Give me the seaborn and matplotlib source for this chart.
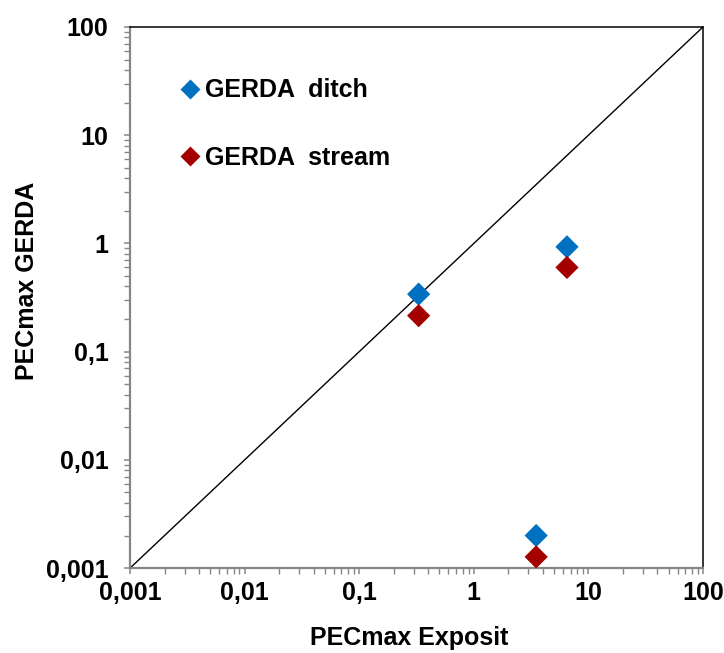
import numpy as np
import pandas as pd
import matplotlib
matplotlib.use("Agg")
import matplotlib.pyplot as plt
import matplotlib.ticker as mticker
import seaborn as sns

# values
exposit = [0.33, 6.5, 3.5]
gerda_ditch = [0.34, 0.93, 0.002]
gerda_stream = [0.215, 0.60, 0.00127]

series_names = ["GERDA  ditch", "GERDA  stream"]
colors = ["#0070C0", "#A50000"]

df = pd.DataFrame({
    "Exposit": exposit * 2,
    "GERDA": gerda_ditch + gerda_stream,
    "series": [series_names[0]] * 3 + [series_names[1]] * 3,
})

sns.set_style("white")
plt.rcParams['font.family'] = ['Liberation Sans', 'DejaVu Sans']
plt.rcParams['text.color'] = 'black'
plt.rcParams['axes.labelcolor'] = 'black'
plt.rcParams['xtick.color'] = 'black'
plt.rcParams['ytick.color'] = 'black'

fig = plt.figure(figsize=(7.24, 6.53), dpi=100)
ax = fig.add_axes([0.1796, 0.130, 0.7914, 0.8287])

ax.plot([0.001, 100], [0.001, 100], color="black", lw=1.0, zorder=1)

sns.scatterplot(data=df, x="Exposit", y="GERDA", hue="series",
                palette=colors, marker="D", s=140, edgecolor="none",
                ax=ax, zorder=3)

ax.set_xscale("log")
ax.set_yscale("log")
ax.set_xlim(0.001, 100)
ax.set_ylim(0.001, 100)

def comma_fmt(v, pos):
    s = f"{v:g}" if v >= 1 else f"{v:.{int(round(-np.log10(v)))}f}"
    return s.replace(".", ",")

ax.xaxis.set_major_formatter(mticker.FuncFormatter(comma_fmt))
ax.yaxis.set_major_formatter(mticker.FuncFormatter(comma_fmt))
ax.xaxis.set_major_locator(mticker.LogLocator(base=10, numticks=10))
ax.yaxis.set_major_locator(mticker.LogLocator(base=10, numticks=10))
ax.xaxis.set_minor_locator(mticker.LogLocator(base=10, subs=np.arange(2, 10), numticks=10))
ax.yaxis.set_minor_locator(mticker.LogLocator(base=10, subs=np.arange(2, 10), numticks=10))
ax.xaxis.set_minor_formatter(mticker.NullFormatter())
ax.yaxis.set_minor_formatter(mticker.NullFormatter())

for side in ["left", "bottom"]:
    ax.spines[side].set_color("#868686")
    ax.spines[side].set_linewidth(1.6)
for side in ["top", "right"]:
    ax.spines[side].set_color("black")
    ax.spines[side].set_linewidth(1.1)

ax.tick_params(which="major", direction="out", length=4.5, width=1.1,
               color="#868686", labelsize=18, labelcolor="black",
               bottom=True, left=True)
ax.tick_params(which="minor", direction="out", length=4, width=1.0,
               color="#868686", bottom=True, left=True)
ax.tick_params(axis="x", which="major", pad=5)
ax.tick_params(axis="y", which="major", pad=11)
for lab in ax.get_xticklabels() + ax.get_yticklabels():
    lab.set_fontweight("bold")

ax.set_xlabel("PECmax Exposit", fontsize=18, fontweight="bold", labelpad=15)
ax.set_ylabel("PECmax GERDA", fontsize=18, fontweight="bold", labelpad=5)
ax.xaxis.label.set_x(0.487)
ax.yaxis.label.set_y(0.53)

leg = ax.legend(loc="upper left", bbox_to_anchor=(0.087, 0.905), frameon=False,
                handlelength=0.8, handletextpad=0.2, labelspacing=1.75,
                fontsize=18, markerscale=0.85, borderaxespad=0, borderpad=0)
for t in leg.get_texts():
    t.set_fontweight("bold")

fig.savefig("out.png", dpi=100)
